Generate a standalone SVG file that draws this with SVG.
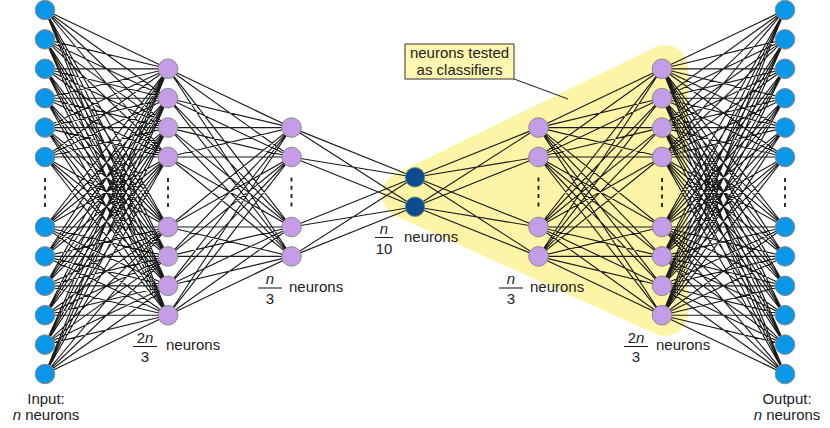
<svg xmlns="http://www.w3.org/2000/svg" xmlns:xlink="http://www.w3.org/1999/xlink" width="830" height="428" viewBox="0 0 830 428">
<style>
text{font-family:"Liberation Sans",Arial,sans-serif;font-size:15px;fill:#222}
.it{font-style:italic}
.mid{text-anchor:middle}
.edge{fill:none;stroke:#1c1c1c;stroke-width:1.15;stroke-linejoin:round}
.nd circle{stroke:#8a8a8a;stroke-width:1}
.blue{fill:#0b97e8}
.purp{fill:#c49ce8}
.dark{fill:#0c4d90}
.dots{stroke:#1c1c1c;stroke-width:1.8;stroke-dasharray:4 4.3}
.frac{stroke:#222;stroke-width:1.1}
</style>
<rect width="830" height="428" fill="#fff"/>
<polygon id="highlight" points="405,195 665,68 665,313" fill="#fcf4a6" stroke="#fcf4a6" stroke-width="46" stroke-linejoin="round"/>
<line x1="514" y1="79" x2="568" y2="99" stroke="#333" stroke-width="1.1"/>
<g id="connectors">
<g id="leftEdges">
<path class="edge" d="M45 10L168 68.8 45 10 168 98.2 45 10 168 127.6 45 10 168 157 45 10 168 227 45 10 168 256.4 45 10 168 285.8 45 10 168 315.2
M45 39.4L168 68.8 45 39.4 168 98.2 45 39.4 168 127.6 45 39.4 168 157 45 39.4 168 227 45 39.4 168 256.4 45 39.4 168 285.8 45 39.4 168 315.2
M45 68.8L168 68.8 45 68.8 168 98.2 45 68.8 168 127.6 45 68.8 168 157 45 68.8 168 227 45 68.8 168 256.4 45 68.8 168 285.8 45 68.8 168 315.2
M45 98.2L168 68.8 45 98.2 168 98.2 45 98.2 168 127.6 45 98.2 168 157 45 98.2 168 227 45 98.2 168 256.4 45 98.2 168 285.8 45 98.2 168 315.2
M45 127.6L168 68.8 45 127.6 168 98.2 45 127.6 168 127.6 45 127.6 168 157 45 127.6 168 227 45 127.6 168 256.4 45 127.6 168 285.8 45 127.6 168 315.2
M45 157L168 68.8 45 157 168 98.2 45 157 168 127.6 45 157 168 157 45 157 168 227 45 157 168 256.4 45 157 168 285.8 45 157 168 315.2
M45 227L168 68.8 45 227 168 98.2 45 227 168 127.6 45 227 168 157 45 227 168 227 45 227 168 256.4 45 227 168 285.8 45 227 168 315.2
M45 256.4L168 68.8 45 256.4 168 98.2 45 256.4 168 127.6 45 256.4 168 157 45 256.4 168 227 45 256.4 168 256.4 45 256.4 168 285.8 45 256.4 168 315.2
M45 285.8L168 68.8 45 285.8 168 98.2 45 285.8 168 127.6 45 285.8 168 157 45 285.8 168 227 45 285.8 168 256.4 45 285.8 168 285.8 45 285.8 168 315.2
M45 315.2L168 68.8 45 315.2 168 98.2 45 315.2 168 127.6 45 315.2 168 157 45 315.2 168 227 45 315.2 168 256.4 45 315.2 168 285.8 45 315.2 168 315.2
M45 344.6L168 68.8 45 344.6 168 98.2 45 344.6 168 127.6 45 344.6 168 157 45 344.6 168 227 45 344.6 168 256.4 45 344.6 168 285.8 45 344.6 168 315.2
M45 374L168 68.8 45 374 168 98.2 45 374 168 127.6 45 374 168 157 45 374 168 227 45 374 168 256.4 45 374 168 285.8 45 374 168 315.2"/>
<path class="edge" d="M168 68.8L291.5 127.6 168 68.8 291.5 157 168 68.8 291.5 227 168 68.8 291.5 256.4
M168 98.2L291.5 127.6 168 98.2 291.5 157 168 98.2 291.5 227 168 98.2 291.5 256.4
M168 127.6L291.5 127.6 168 127.6 291.5 157 168 127.6 291.5 227 168 127.6 291.5 256.4
M168 157L291.5 127.6 168 157 291.5 157 168 157 291.5 227 168 157 291.5 256.4
M168 227L291.5 127.6 168 227 291.5 157 168 227 291.5 227 168 227 291.5 256.4
M168 256.4L291.5 127.6 168 256.4 291.5 157 168 256.4 291.5 227 168 256.4 291.5 256.4
M168 285.8L291.5 127.6 168 285.8 291.5 157 168 285.8 291.5 227 168 285.8 291.5 256.4
M168 315.2L291.5 127.6 168 315.2 291.5 157 168 315.2 291.5 227 168 315.2 291.5 256.4"/>
<path class="edge" d="M291.5 127.6L415 177.3 291.5 127.6 415 206.7M291.5 157L415 177.3 291.5 157 415 206.7M291.5 227L415 177.3 291.5 227 415 206.7M291.5 256.4L415 177.3 291.5 256.4 415 206.7"/>
</g>
<use id="rightEdges" xlink:href="#leftEdges" href="#leftEdges" transform="translate(830,0) scale(-1,1)"/>
</g>
<g id="layer-input" class="nd">
<circle class="blue" cx="45" cy="10" r="9.8"/><circle class="blue" cx="45" cy="39.4" r="9.8"/><circle class="blue" cx="45" cy="68.8" r="9.8"/><circle class="blue" cx="45" cy="98.2" r="9.8"/><circle class="blue" cx="45" cy="127.6" r="9.8"/><circle class="blue" cx="45" cy="157" r="9.8"/><circle class="blue" cx="45" cy="227" r="9.8"/><circle class="blue" cx="45" cy="256.4" r="9.8"/><circle class="blue" cx="45" cy="285.8" r="9.8"/><circle class="blue" cx="45" cy="315.2" r="9.8"/><circle class="blue" cx="45" cy="344.6" r="9.8"/><circle class="blue" cx="45" cy="374" r="9.8"/>
<line class="dots" x1="45" y1="178" x2="45" y2="207"/>
</g>
<g id="layer-enc1" class="nd">
<circle class="purp" cx="168" cy="68.8" r="9.8"/><circle class="purp" cx="168" cy="98.2" r="9.8"/><circle class="purp" cx="168" cy="127.6" r="9.8"/><circle class="purp" cx="168" cy="157" r="9.8"/><circle class="purp" cx="168" cy="227" r="9.8"/><circle class="purp" cx="168" cy="256.4" r="9.8"/><circle class="purp" cx="168" cy="285.8" r="9.8"/><circle class="purp" cx="168" cy="315.2" r="9.8"/>
<line class="dots" x1="168" y1="178" x2="168" y2="207"/>
</g>
<g id="layer-enc2" class="nd">
<circle class="purp" cx="291.5" cy="127.6" r="9.8"/><circle class="purp" cx="291.5" cy="157" r="9.8"/><circle class="purp" cx="291.5" cy="227" r="9.8"/><circle class="purp" cx="291.5" cy="256.4" r="9.8"/>
<line class="dots" x1="291.5" y1="177.5" x2="291.5" y2="206.5"/>
</g>
<g id="layer-bottleneck" class="nd">
<circle class="dark" cx="415" cy="177.3" r="9.8"/><circle class="dark" cx="415" cy="206.7" r="9.8"/>
</g>
<g id="layer-dec1" class="nd">
<circle class="purp" cx="538.5" cy="127.6" r="9.8"/><circle class="purp" cx="538.5" cy="157" r="9.8"/><circle class="purp" cx="538.5" cy="227" r="9.8"/><circle class="purp" cx="538.5" cy="256.4" r="9.8"/>
<line class="dots" x1="538.5" y1="177.5" x2="538.5" y2="206.5"/>
</g>
<g id="layer-dec2" class="nd">
<circle class="purp" cx="662" cy="68.8" r="9.8"/><circle class="purp" cx="662" cy="98.2" r="9.8"/><circle class="purp" cx="662" cy="127.6" r="9.8"/><circle class="purp" cx="662" cy="157" r="9.8"/><circle class="purp" cx="662" cy="227" r="9.8"/><circle class="purp" cx="662" cy="256.4" r="9.8"/><circle class="purp" cx="662" cy="285.8" r="9.8"/><circle class="purp" cx="662" cy="315.2" r="9.8"/>
<line class="dots" x1="662" y1="178" x2="662" y2="207"/>
</g>
<g id="layer-output" class="nd">
<circle class="blue" cx="785" cy="10" r="9.8"/><circle class="blue" cx="785" cy="39.4" r="9.8"/><circle class="blue" cx="785" cy="68.8" r="9.8"/><circle class="blue" cx="785" cy="98.2" r="9.8"/><circle class="blue" cx="785" cy="127.6" r="9.8"/><circle class="blue" cx="785" cy="157" r="9.8"/><circle class="blue" cx="785" cy="227" r="9.8"/><circle class="blue" cx="785" cy="256.4" r="9.8"/><circle class="blue" cx="785" cy="285.8" r="9.8"/><circle class="blue" cx="785" cy="315.2" r="9.8"/><circle class="blue" cx="785" cy="344.6" r="9.8"/><circle class="blue" cx="785" cy="374" r="9.8"/>
<line class="dots" x1="785" y1="178" x2="785" y2="207"/>
</g>
<g id="label-input">
<text class="mid" x="46" y="404">Input:</text>
<text class="mid" x="46" y="420"><tspan class="it">n</tspan> neurons</text>
</g>
<g id="label-output">
<text class="mid" x="787" y="404">Output:</text>
<text class="mid" x="787" y="420"><tspan class="it">n</tspan> neurons</text>
</g>
<g id="label-enc1">
<text class="mid" x="145" y="343">2<tspan class="it">n</tspan></text>
<line class="frac" x1="133" y1="346.5" x2="157" y2="346.5"/>
<text class="mid" x="145" y="362">3</text>
<text x="166" y="350">neurons</text>
</g>
<g id="label-enc2">
<text class="mid it" x="270" y="284">n</text>
<line class="frac" x1="258" y1="288" x2="282" y2="288"/>
<text class="mid" x="270" y="304">3</text>
<text x="289" y="292">neurons</text>
</g>
<g id="label-bottleneck">
<text class="mid it" x="384" y="234">n</text>
<line class="frac" x1="375" y1="237.5" x2="393" y2="237.5"/>
<text class="mid" x="384" y="254">10</text>
<text x="404" y="241.5">neurons</text>
</g>
<g id="label-dec1">
<text class="mid it" x="511" y="284">n</text>
<line class="frac" x1="499" y1="288" x2="523" y2="288"/>
<text class="mid" x="511" y="304">3</text>
<text x="530" y="292">neurons</text>
</g>
<g id="label-dec2">
<text class="mid" x="636" y="343">2<tspan class="it">n</tspan></text>
<line class="frac" x1="624" y1="346.5" x2="648" y2="346.5"/>
<text class="mid" x="636" y="362">3</text>
<text x="656" y="350">neurons</text>
</g>
<g id="callout">
<rect x="405" y="44" width="109" height="35" fill="#fff7b0" stroke="#444" stroke-width="1.1"/>
<text class="mid" x="459.5" y="58">neurons tested</text>
<text class="mid" x="459.5" y="74.5">as classifiers</text>
</g>
</svg>
